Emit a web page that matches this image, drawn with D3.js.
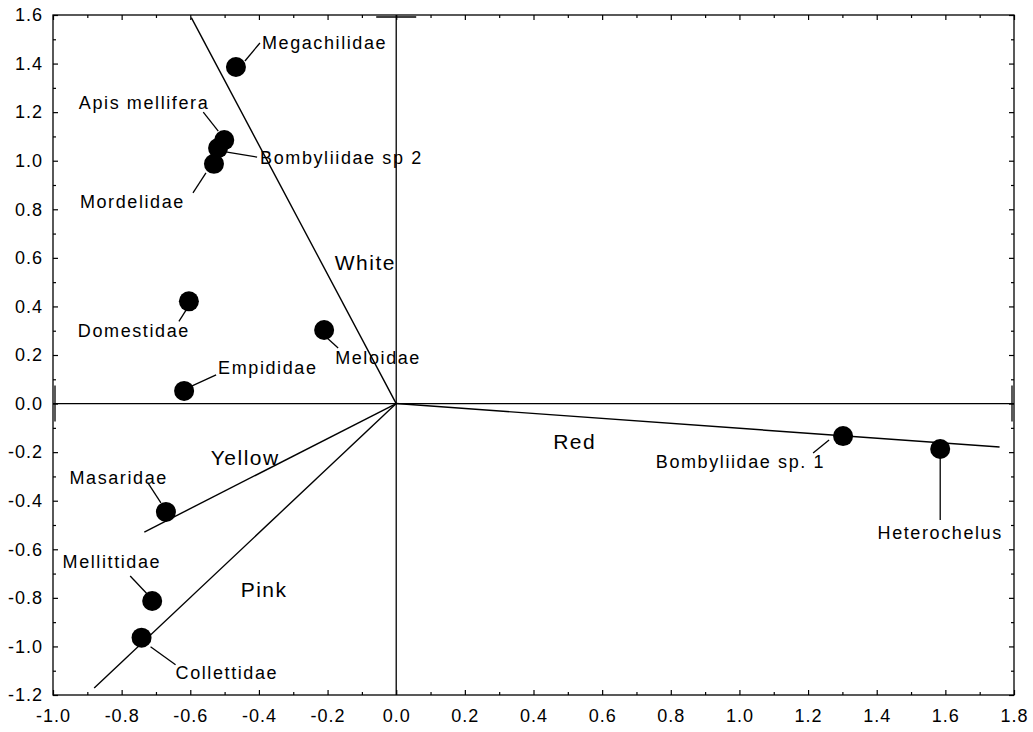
<!DOCTYPE html>
<html>
<head>
<meta charset="utf-8">
<script src="https://cdn.jsdelivr.net/npm/d3@7"></script>
<style>
  html, body { margin: 0; padding: 0; background: #fff; }
  svg text { font-family: "Liberation Sans", Arial, sans-serif; fill: #000; }
</style>
</head>
<body>
<svg id="chart" width="1033" height="732"></svg>
<script>
// ---- data ----
const taxa = ["Megachilidae", "Apis mellifera", "Bombyliidae sp 2", "Mordelidae", "Domestidae",
  "Meloidae", "Empididae", "Masaridae", "Mellittidae", "Collettidae", "Bombyliidae sp. 1", "Heterochelus"];
const taxaX = [-0.467, -0.501, -0.519, -0.531, -0.604, -0.210, -0.618, -0.671, -0.711, -0.742, 1.302, 1.585];
const taxaY = [1.386, 1.085, 1.052, 0.987, 0.421, 0.303, 0.052, -0.446, -0.813, -0.964, -0.134, -0.187];

const colours = ["White", "Red", "Yellow", "Pink"];
const vecX = [-0.597, 1.758, -0.734, -0.880];
const vecY = [1.589, -0.179, -0.529, -1.171];
// where each colour name is written
const vecLabelX = [-0.090, 0.520, -0.440, -0.385];
const vecLabelY = [0.580, -0.155, -0.220, -0.765];

const xTicks = [-1.0, -0.8, -0.6, -0.4, -0.2, 0.0, 0.2, 0.4, 0.6, 0.8, 1.0, 1.2, 1.4, 1.6, 1.8];
const yTicks = [-1.2, -1.0, -0.8, -0.6, -0.4, -0.2, 0.0, 0.2, 0.4, 0.6, 0.8, 1.0, 1.2, 1.4, 1.6];

// ---- layout (pixel offsets of leader lines and labels relative to each point) ----
const labelLayout = {
  "Megachilidae":      {l: [9, -6, 24, -24],  t: [26, -24, "start"]},
  "Apis mellifera":    {l: [-6, -9, -21, -28], t: [-15, -37, "end"]},
  "Bombyliidae sp 2":  {l: [9, 4, 39, 9],      t: [42, 10, "start"]},
  "Mordelidae":        {l: [-8, 9, -21, 29],   t: [-29, 38, "end"]},
  "Domestidae":        {l: [-3, 9, -10, 20],   t: [1, 30, "end"]},
  "Meloidae":          {l: [3, 8, 14, 18],     t: [11, 28, "start"]},
  "Empididae":         {l: [8, -5, 32, -16],   t: [34, -23, "start"]},
  "Masaridae":         {l: [-5, -9, -18, -29], t: [2, -34, "end"]},
  "Mellittidae":       {l: [-5, -7, -22, -25], t: [9, -39, "end"]},
  "Collettidae":       {l: [9, 9, 34, 27],     t: [34, 35, "start"]},
  "Bombyliidae sp. 1": {l: [-14, 4, -30, 17],  t: [-18, 26, "end"]},
  "Heterochelus":      {l: [0, 9, 0, 71],      t: [0, 84, "middle"]}
};

const svg = d3.select("#chart");
const L = 53, R = 1014, T = 15, B = 695;
const x = d3.scaleLinear().domain([-1.0, 1.8]).range([L, R]);
const y = d3.scaleLinear().domain([-1.2, 1.6]).range([B, T]);

const fmt = d => d.toFixed(1);
const minorX = d3.range(-9, 18, 2).map(v => v / 10);
const minorY = d3.range(-11, 16, 2).map(v => v / 10);

function styleAxis(g) {
  g.select(".domain").remove();
  g.selectAll(".tick line").attr("stroke", "#000").attr("stroke-width", 1.2);
  g.selectAll(".tick text").style("font-size", "18px").style("letter-spacing", "1px");
}

// bottom
svg.append("g").attr("transform", `translate(0,${B})`)
  .call(d3.axisBottom(x).tickValues(xTicks).tickFormat(fmt).tickSizeInner(-5).tickSizeOuter(0).tickPadding(14))
  .call(styleAxis);
svg.append("g").attr("transform", `translate(0,${B})`)
  .call(d3.axisBottom(x).tickValues(minorX).tickFormat("").tickSizeInner(-3).tickSizeOuter(0))
  .call(styleAxis);
// top
svg.append("g").attr("transform", `translate(0,${T})`)
  .call(d3.axisTop(x).tickValues(xTicks).tickFormat("").tickSizeInner(-5).tickSizeOuter(0))
  .call(styleAxis);
svg.append("g").attr("transform", `translate(0,${T})`)
  .call(d3.axisTop(x).tickValues(minorX).tickFormat("").tickSizeInner(-3).tickSizeOuter(0))
  .call(styleAxis);
// left
svg.append("g").attr("transform", `translate(${L},0)`)
  .call(d3.axisLeft(y).tickValues(yTicks).tickFormat(fmt).tickSizeInner(-5).tickSizeOuter(0).tickPadding(10))
  .call(styleAxis);
svg.append("g").attr("transform", `translate(${L},0)`)
  .call(d3.axisLeft(y).tickValues(minorY).tickFormat("").tickSizeInner(-3).tickSizeOuter(0))
  .call(styleAxis);
// right
svg.append("g").attr("transform", `translate(${R},0)`)
  .call(d3.axisRight(y).tickValues(yTicks).tickFormat("").tickSizeInner(-5).tickSizeOuter(0))
  .call(styleAxis);
svg.append("g").attr("transform", `translate(${R},0)`)
  .call(d3.axisRight(y).tickValues(minorY).tickFormat("").tickSizeInner(-3).tickSizeOuter(0))
  .call(styleAxis);

// frame
svg.append("rect").attr("x", L).attr("y", T).attr("width", R - L).attr("height", B - T)
  .attr("fill", "none").attr("stroke", "#000").attr("stroke-width", 1.3);

// zero lines with end caps
const zg = svg.append("g").attr("stroke", "#000").attr("stroke-width", 1.3);
zg.append("line").attr("x1", x(0)).attr("x2", x(0)).attr("y1", T).attr("y2", B);
zg.append("line").attr("x1", L).attr("x2", R).attr("y1", y(0)).attr("y2", y(0));
zg.append("line").attr("x1", x(0) - 20).attr("x2", x(0) + 20).attr("y1", T + 2).attr("y2", T + 2);
zg.append("line").attr("x1", L + 2).attr("x2", L + 2).attr("y1", y(0) - 18).attr("y2", y(0) + 18);
zg.append("line").attr("x1", R - 2).attr("x2", R - 2).attr("y1", y(0) - 18).attr("y2", y(0) + 18);

// colour vectors
svg.append("g").selectAll("line").data(colours).join("line")
  .attr("x1", x(0)).attr("y1", y(0))
  .attr("x2", (d, i) => x(vecX[i])).attr("y2", (d, i) => y(vecY[i]))
  .attr("stroke", "#000").attr("stroke-width", 1.4);
svg.append("g").selectAll("text").data(colours).join("text")
  .attr("x", (d, i) => x(vecLabelX[i])).attr("y", (d, i) => y(vecLabelY[i]))
  .attr("text-anchor", "middle").attr("dominant-baseline", "central")
  .style("font-size", "21px").style("letter-spacing", "1.5px")
  .text(d => d);

// leaders
const pts = taxa.map((n, i) => ({name: n, px: x(taxaX[i]), py: y(taxaY[i])}));
svg.append("g").selectAll("line").data(pts).join("line")
  .attr("x1", d => d.px + labelLayout[d.name].l[0]).attr("y1", d => d.py + labelLayout[d.name].l[1])
  .attr("x2", d => d.px + labelLayout[d.name].l[2]).attr("y2", d => d.py + labelLayout[d.name].l[3])
  .attr("stroke", "#000").attr("stroke-width", 1.3);

// points
svg.append("g").selectAll("circle").data(pts).join("circle")
  .attr("cx", d => d.px).attr("cy", d => d.py).attr("r", 10).attr("fill", "#000");

// point labels
svg.append("g").selectAll("text").data(pts).join("text")
  .attr("x", d => d.px + labelLayout[d.name].t[0]).attr("y", d => d.py + labelLayout[d.name].t[1])
  .attr("text-anchor", d => labelLayout[d.name].t[2]).attr("dominant-baseline", "central")
  .style("font-size", "18px").style("letter-spacing", "1.6px")
  .text(d => d.name);
</script>
</body>
</html>
